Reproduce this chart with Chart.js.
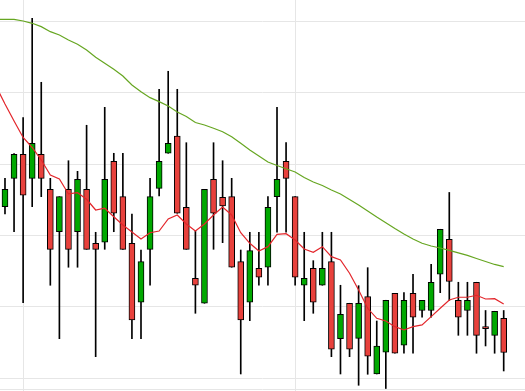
<!DOCTYPE html>
<html><head><meta charset="utf-8">
<style>html,body{margin:0;padding:0;background:#fff;overflow:hidden}</style>
<script src="https://cdn.jsdelivr.net/npm/chart.js@4.4.1/dist/chart.umd.min.js"></script>
</head><body>
<canvas id="c" width="525" height="391"></canvas>
<script>
// candle index 0..55
const opens = [124.03,128.00,131.36,128.00,131.36,126.46,120.53,126.46,120.53,126.46,
  118.91,119.05,130.38,125.43,118.91,110.66,118.07,126.60,131.50,133.92,
  123.95,114.02,110.52,127.86,125.35,125.43,116.34,110.66,115.42,115.56,
  125.43,130.38,125.43,113.04,115.42,113.04,116.34,105.57,110.52,105.60,
  111.44,100.63,103.67,111.92,104.65,111.92,109.51,109.51,114.58,119.47,
  110.94,109.51,113.46,107.25,106.04,108.42];
const highs = [128.00,131.45,136.48,150.38,141.43,128.00,125.43,130.46,128.98,135.42,
  120.45,137.93,131.50,131.50,123.01,117.97,128.00,140.45,142.97,140.45,
  132.98,120.67,126.46,132.98,130.46,128.00,117.97,120.45,120.45,125.43,
  137.93,132.98,125.43,120.45,116.48,120.45,120.45,113.04,110.52,112.98,
  115.50,108.04,110.94,111.92,112.00,114.58,110.94,115.97,120.87,126.02,
  113.46,113.46,113.46,109.51,109.40,109.51];
const lows = [123.01,120.53,110.60,124.03,125.43,113.04,105.57,115.56,115.56,118.07,
  103.05,118.07,120.53,118.07,105.57,105.57,113.04,125.53,131.50,123.11,
  118.07,109.12,110.52,118.07,119.00,115.56,100.63,108.09,113.04,113.04,
  120.45,120.45,113.04,108.09,109.12,113.04,103.05,100.63,103.05,99.05,
  100.59,100.63,98.60,103.53,103.53,103.53,108.56,108.56,112.00,110.94,
  106.04,106.04,103.53,104.55,103.53,101.05];
const closes = [126.46,131.36,125.63,132.90,128.00,118.07,125.43,118.07,127.86,118.07,
  118.07,127.86,123.11,118.07,108.18,116.34,125.43,130.38,132.90,123.11,
  118.07,113.04,126.46,123.11,124.13,115.56,108.18,117.88,114.16,123.95,
  127.86,128.00,114.16,114.02,110.66,115.42,104.09,108.98,104.09,110.52,
  103.11,104.55,110.94,103.53,110.94,108.56,110.94,113.46,120.87,113.57,
  108.56,110.94,106.04,106.97,109.40,103.64];
// moving averages, index -1..55
const maFast = [140.91,138.39,136.02,133.71,132.31,130.56,128.46,127.91,125.81,125.99,125.07,
  123.57,123.81,122.63,121.47,120.49,119.51,120.39,120.63,122.31,122.87,
  121.61,120.63,121.61,122.87,123.99,122.87,120.39,118.91,117.84,118.44,
  120.17,120.25,119.37,118.11,117.65,118.44,117.04,116.58,114.72,112.38,
  109.82,108.42,108.04,107.25,106.79,107.25,107.49,108.65,109.82,110.98,
  111.36,111.36,111.64,111.12,111.16,110.42];
const maSlow = [150.24,150.24,150.24,150.00,149.68,149.21,148.51,148.04,147.35,146.74,145.95,
  144.93,144.09,143.25,142.31,141.05,140.11,139.28,138.72,138.11,137.28,
  136.65,135.81,135.46,135.00,134.52,133.82,132.90,131.96,131.12,130.28,
  129.79,129.33,128.88,128.11,127.49,127.00,126.37,125.81,125.04,124.27,
  123.43,122.59,121.79,120.98,120.21,119.51,118.91,118.53,118.25,117.93,
  117.56,117.21,116.79,116.37,115.95,115.64];
const yGrid = [98.49,100,110,120,130,140,150];
const xGrid = [2,32];

const bodies = opens.map((o,i)=>({x:i, y:[o, closes[i]]}));
const wicks = lows.map((l,i)=>({x:i, y:[l, highs[i]]}));
const bodyColors = opens.map((o,i)=> closes[i] >= o ? '#00a800' : '#e8413c');

const gridOpts = {color:'#e6e6e6', lineWidth:1, drawTicks:false, offset:false};
new Chart(document.getElementById('c'), {
  type:'bar',
  data:{datasets:[
    {type:'line', data:maFast.map((v,k)=>({x:k-1,y:v})), borderColor:'#e3262b', borderWidth:1.2, pointRadius:0, fill:false, tension:0, order:0},
    {type:'line', data:maSlow.map((v,k)=>({x:k-1,y:v})), borderColor:'#66a621', borderWidth:1.2, pointRadius:0, fill:false, tension:0, order:0},
    {type:'bar', data:bodies, backgroundColor:bodyColors, borderColor:'#000', borderWidth:1, borderSkipped:false, barThickness:6, grouped:false, order:1},
    {type:'bar', data:wicks, backgroundColor:'#000', borderWidth:0, barThickness:1, grouped:false, order:2}
  ]},
  options:{
    responsive:false, animation:false, events:[],
    layout:{padding:0},
    plugins:{legend:{display:false}, tooltip:{enabled:false}},
    scales:{
      x:{type:'linear', min:-0.55, max:57.35, offset:false,
        afterBuildTicks:s=>{s.ticks = xGrid.map(v=>({value:v}));},
        afterFit:s=>{s.height=0;},
        ticks:{display:false}, grid:gridOpts, border:{display:false}},
      y:{type:'linear', min:98.25, max:152.94, offset:false,
        afterBuildTicks:s=>{s.ticks = yGrid.map(v=>({value:v}));},
        afterFit:s=>{s.width=0;},
        ticks:{display:false}, grid:gridOpts, border:{display:false}}
    }
  }
});
</script>
</body></html>
